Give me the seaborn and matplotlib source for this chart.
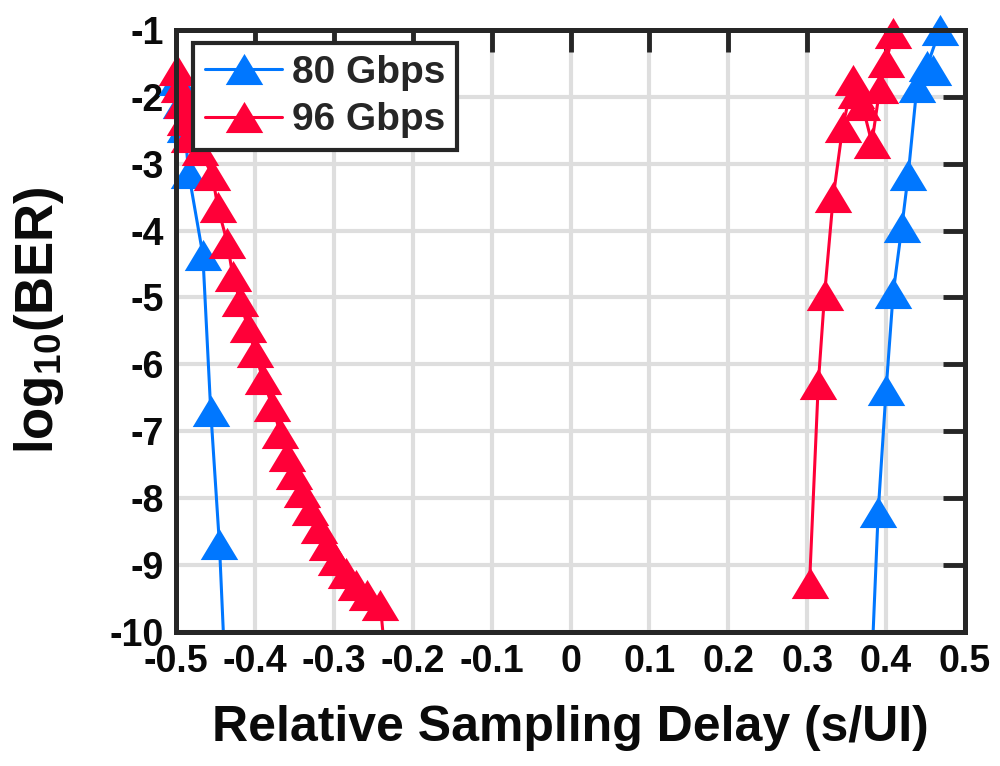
import numpy as np
import pandas as pd
import seaborn as sns
import matplotlib
matplotlib.use("Agg")
import matplotlib.pyplot as plt
from matplotlib.path import Path
from matplotlib.lines import Line2D

# ---------------- data ----------------
rates = ["80 Gbps", "96 Gbps"]

# 80 Gbps, left edge of the bathtub
b80_left_x = [-0.499, -0.494, -0.489, -0.484, -0.466, -0.456, -0.445, -0.437]
b80_left_y = [-1.75, -2.10, -2.45, -3.14, -4.36, -6.69, -8.68, -10.8]
# 80 Gbps, right edge
b80_right_x = [0.380, 0.390, 0.400, 0.409, 0.420, 0.428, 0.439, 0.459, 0.452, 0.468]
b80_right_y = [-11.0, -8.20, -6.38, -4.93, -3.94, -3.17, -1.85, -1.60, -1.54, -1.00]

# 96 Gbps, left edge
b96_left_x = [-0.499, -0.496, -0.492, -0.488, -0.483, -0.470, -0.454, -0.447,
              -0.435, -0.428, -0.419, -0.409, -0.400, -0.390, -0.378, -0.368,
              -0.359, -0.350, -0.340, -0.330, -0.319, -0.308, -0.297, -0.285,
              -0.272, -0.258, -0.241, -0.233]
b96_left_y = [-1.60, -1.85, -2.10, -2.35, -2.60, -2.80, -3.17, -3.65,
              -4.18, -4.68, -5.05, -5.44, -5.81, -6.22, -6.62, -7.02,
              -7.37, -7.64, -7.91, -8.18, -8.45, -8.70, -8.93, -9.12,
              -9.30, -9.45, -9.60, -10.6]
# 96 Gbps, right edge
b96_right_x = [0.303, 0.314, 0.322, 0.333, 0.345, 0.358, 0.362, 0.370, 0.382, 0.392, 0.400, 0.409]
b96_right_y = [-9.27, -6.30, -4.96, -3.50, -2.45, -1.75, -1.95, -2.13, -2.69, -1.87, -1.48, -1.05]

x_ticks = [-0.5, -0.4, -0.3, -0.2, -0.1, 0.0, 0.1, 0.2, 0.3, 0.4, 0.5]
x_tick_labels = ["-0.5", "-0.4", "-0.3", "-0.2", "-0.1", "0", "0.1", "0.2", "0.3", "0.4", "0.5"]
y_ticks = [-1, -2, -3, -4, -5, -6, -7, -8, -9, -10]
y_tick_labels = ["-1", "-2", "-3", "-4", "-5", "-6", "-7", "-8", "-9", "-10"]

colors = {"80 Gbps": "#0077FF", "96 Gbps": "#FF0038"}

# ---------------- table ----------------
frames = []
for rate, branch, xs, ys in [
    ("80 Gbps", "80L", b80_left_x, b80_left_y),
    ("80 Gbps", "80R", b80_right_x, b80_right_y),
    ("96 Gbps", "96L", b96_left_x, b96_left_y),
    ("96 Gbps", "96R", b96_right_x, b96_right_y),
]:
    frames.append(pd.DataFrame({"x": xs, "y": ys, "rate": rate, "branch": branch}))
df = pd.concat(frames, ignore_index=True)
df_in = df[(df["y"] >= -10) & (df["y"] <= -1) & (df["x"] >= -0.5) & (df["x"] <= 0.5)]

# ---------------- style ----------------
sns.set_theme(style="whitegrid")
plt.rcParams["font.family"] = ["Liberation Sans", "DejaVu Sans"]
plt.rcParams["font.weight"] = "bold"
plt.rcParams["mathtext.fontset"] = "custom"
plt.rcParams["mathtext.rm"] = "Liberation Sans:bold"
plt.rcParams["mathtext.bf"] = "Liberation Sans:bold"
plt.rcParams["mathtext.it"] = "Liberation Sans:bold"

tri = Path([(0, 0.83), (-1, -0.83), (1, -0.83), (0, 0.83)],
           [Path.MOVETO, Path.LINETO, Path.LINETO, Path.CLOSEPOLY])
MS = 27
LW = 2.2
AX_COLOR = "#262626"
TXT = "#0A0A0A"

fig = plt.figure(figsize=(10, 7.66), dpi=100)
ax = fig.add_axes([0.176, 0.175, 0.789, 0.786])

# lines (clipped at the axes)
sns.lineplot(data=df, x="x", y="y", hue="rate", units="branch", estimator=None,
             sort=False, palette=colors, hue_order=rates, linewidth=LW,
             legend=False, ax=ax, zorder=3)
n_lines = len(ax.lines)
# markers (drawn whole even at the border)
sns.lineplot(data=df_in, x="x", y="y", hue="rate", units="branch", estimator=None,
             sort=False, palette=colors, hue_order=rates, linestyle="none",
             marker=tri, markersize=MS, markeredgewidth=0, legend=False, ax=ax, zorder=4)
for ln in ax.lines[n_lines:]:
    ln.set_clip_on(False)

ax.set_xlim(-0.5, 0.5)
ax.set_ylim(-10, -1)
ax.set_xticks(x_ticks)
ax.set_xticklabels(x_tick_labels)
ax.set_yticks(y_ticks)
ax.set_yticklabels(y_tick_labels)

ax.grid(True, color="#DEDEDE", linewidth=3)
ax.set_axisbelow(True)
for sp in ax.spines.values():
    sp.set_visible(True)
    sp.set_color(AX_COLOR)
    sp.set_linewidth(3.6)
    sp.set_zorder(5)
ax.tick_params(direction="in", top=True, right=True, length=16, width=3.5,
               color=AX_COLOR, labelsize=27, labelcolor=TXT, pad=9)
for lab in ax.get_xticklabels() + ax.get_yticklabels():
    lab.set_fontweight("bold")

ax.set_xlabel("Relative Sampling Delay (s/UI)", fontsize=36, fontweight="bold",
              color=TXT, labelpad=18)
ax.set_ylabel(r"log$_{\mathbf{10}}$(BER)", fontsize=38, fontweight="bold",
              color=TXT)
ax.yaxis.set_label_coords(-0.139, 0.518)

handles = [Line2D([], [], color=colors[r], linewidth=LW, marker=tri,
                  markersize=MS, markeredgewidth=0) for r in rates]
leg = ax.legend(handles, rates, loc="upper left", bbox_to_anchor=(0.0215, 0.978),
                borderaxespad=0, fancybox=False, framealpha=1, edgecolor=AX_COLOR,
                prop={"size": 28, "weight": "bold"}, handlelength=2.0,
                handletextpad=0.25, borderpad=0.3, labelspacing=0.3)
leg.get_frame().set_linewidth(3)
leg.set_zorder(10)

fig.savefig("out.png", dpi=100, facecolor="white")
